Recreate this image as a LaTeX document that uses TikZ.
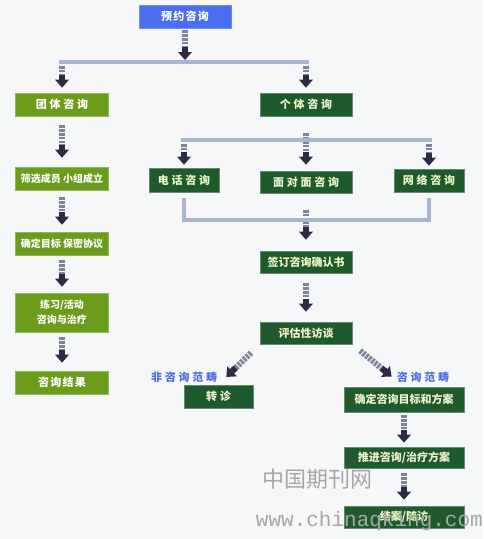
\documentclass[tikz,border=0pt]{standalone}
\usepackage{fontspec}
\usepackage{tikz}
\usetikzlibrary{positioning,arrows.meta,calc}
\usepackage{xcolor}
\newfontfamily\cjk{Noto Sans CJK SC}
\newfontfamily\cjkwide{Noto Sans CJK SC}[LetterSpace=25]
\newfontfamily\cjkmid{Noto Sans CJK SC}[LetterSpace=12]
\setmonofont{Liberation Mono}
\definecolor{paper}{HTML}{F6F7F9}
\definecolor{topblue}{HTML}{4B6EF0}
\definecolor{leafgreen}{HTML}{6B9C1C}
\definecolor{pinegreen}{HTML}{1F5A2F}
\definecolor{paleyellow}{HTML}{EEF3C8}
\definecolor{barblue}{HTML}{A9B6D0}
\definecolor{stemgray}{HTML}{7D8699}
\definecolor{arrowdark}{HTML}{2E2A45}
\definecolor{labelblue}{HTML}{4D6FE0}

\begin{document}
\begin{tikzpicture}[x=1pt,y=-1pt,
  box/.style={minimum height=23pt,inner sep=1pt,font=\cjk\bfseries\fontsize{11}{13}\selectfont,line width=0.7pt},
  bluebox/.style={box,fill=topblue,draw=topblue!80!white,text=white},
  leafbox/.style={box,fill=leafgreen,draw=leafgreen!75!white,text=white,minimum width=93pt},
  pinebox/.style={box,fill=pinegreen,draw=pinegreen!70!white,text=paleyellow},
  flow/.style={line width=6pt,draw=stemgray,dash pattern=on 2.6pt off 1.2pt,
    -{Rectangle[length=5pt,width=6pt,sep=0pt,line width=0pt,color=arrowdark]Triangle[length=8pt,width=14pt,line width=0pt,color=arrowdark]}},
  bar/.style={line width=4pt,draw=barblue,line join=miter},
  scope/.style={font=\cjkwide\bfseries\fontsize{11}{13}\selectfont,text=labelblue}]
\useasboundingbox[fill=paper] (0,0) rectangle (483,539);

\node (yuyue) [bluebox,minimum width=92pt,font=\cjkmid\bfseries\fontsize{11}{13}\selectfont] at (185,16.5) {预约咨询};

\node (tuanti) [leafbox,font=\cjkwide\bfseries\fontsize{11}{13}\selectfont] at (62,104.5) {团体咨询};
\node (shaixuan) [leafbox,font=\cjk\bfseries\fontsize{10}{12}\selectfont] at (62,178.5) {筛选成员 小组成立};
\node (mubiaoL) [leafbox,font=\cjk\bfseries\fontsize{10}{12}\selectfont] at (62,243.5) {确定目标 保密协议};
\node (lianxi) [leafbox,minimum height=39pt,align=center,font=\cjk\bfseries\fontsize{10}{15}\selectfont] at (62,312.5) {练习/活动\\咨询与治疗};
\node (jieguo) [leafbox,font=\cjkmid\bfseries\fontsize{11}{13}\selectfont] at (62,382.5) {咨询结果};

\node (geti) [pinebox,minimum width=92pt,font=\cjkwide\bfseries\fontsize{11}{13}\selectfont] at (306,104.5) {个体咨询};
\node (dianhua) [pinebox,minimum width=70pt,minimum height=24pt,font=\cjkwide\bfseries\fontsize{11}{13}\selectfont] at (184,180) {电话咨询};
\node (mianduimian) [pinebox,minimum width=92pt,minimum height=22pt,font=\cjkwide\bfseries\fontsize{11}{13}\selectfont] at (306,182) {面对面咨询};
\node (wangluo) [pinebox,minimum width=70pt,font=\cjkwide\bfseries\fontsize{11}{13}\selectfont] at (429,180.5) {网络咨询};
\node (qianding) [pinebox,minimum width=92pt,minimum height=22pt] at (306,262) {签订咨询确认书};
\node (pinggu) [pinebox,minimum width=92pt,minimum height=22pt] at (306,333) {评估性访谈};
\node (zhuanzhen) [pinebox,minimum width=69pt,font=\cjkwide\bfseries\fontsize{11}{13}\selectfont] at (218.5,396.5) {转诊};
\node (mubiao) [pinebox,minimum width=120pt,minimum height=25pt] at (404,399.5) {确定咨询目标和方案};
\node (tuijin) [pinebox,minimum width=120pt,minimum height=21pt] at (404,457.5) {推进咨询/治疗方案};
\node (jiean) [pinebox,minimum width=120pt,minimum height=22pt] at (404,517) {结案/随访};

\node (feifanchou) [scope] at (184,377) {非咨询范畴};
\node (fanchou) [scope] at (423,377) {咨询范畴};

\coordinate (topbar) at (185,62);
\coordinate (barL) at (62,62);
\coordinate (barR) at (306,62);
\coordinate (midL) at (184,140);
\coordinate (midR) at (429,140);
\coordinate (lowbar) at (306,220);
\coordinate (lowstem) at (306,210);

\draw[flow,shorten <=2pt,shorten >=2pt] (yuyue) -- (topbar);
\draw[flow,shorten <=4pt,shorten >=5pt] (barL) -- (tuanti);
\draw[flow,shorten <=4pt,shorten >=5pt] (barR) -- (geti);
\draw[flow,shorten <=9pt,shorten >=9pt] (tuanti) -- (shaixuan);
\draw[flow,shorten <=7pt,shorten >=7pt] (shaixuan) -- (mubiaoL);
\draw[flow,shorten <=5pt,shorten >=6pt] (mubiaoL) -- (lianxi);
\draw[flow,shorten <=5pt,shorten >=8pt] (lianxi) -- (jieguo);
\draw[flow,shorten <=4pt,shorten >=3pt] (midL) -- (dianhua);
\draw[flow,shorten <=17pt,shorten >=6pt] (geti) -- (mianduimian);
\draw[flow,shorten <=4pt,shorten >=3pt] (midR) -- (wangluo);
\draw[flow,shorten >=11pt] (lowstem) -- (qianding);
\draw[flow,shorten <=10pt,shorten >=10pt] (qianding) -- (pinggu);
\draw[flow,shorten <=12pt,shorten >=11pt] (pinggu.south west) -- (zhuanzhen.north);
\draw[flow,shorten <=10pt,shorten >=16pt] (pinggu.south east) -- (mubiao.north);
\draw[flow,shorten <=3pt,shorten >=4pt] (mubiao) -- (tuijin);
\draw[flow,shorten <=5pt,shorten >=6pt] (tuijin) -- (jiean);

\draw[bar] ($(barL)+(-3,0)$) -- ($(barR)+(3,0)$);
\draw[bar] ($(midL)+(-3,0)$) -- ($(midR)+(3,0)$);
\draw[bar] ([yshift=-6pt]dianhua.south) |- (lowbar) -| ([yshift=-6pt]wangluo.south);

\node (wangzhan) [text=gray!70,font=\cjk\fontsize{22}{24}\selectfont] at (317,479) {中国期刊网};
\node (wangzhi) [text=gray!70,font=\ttfamily\fontsize{21}{23}\selectfont,anchor=east,inner sep=0pt] at (483,521) {www.chinaqking.com};
\end{tikzpicture}
\end{document}
